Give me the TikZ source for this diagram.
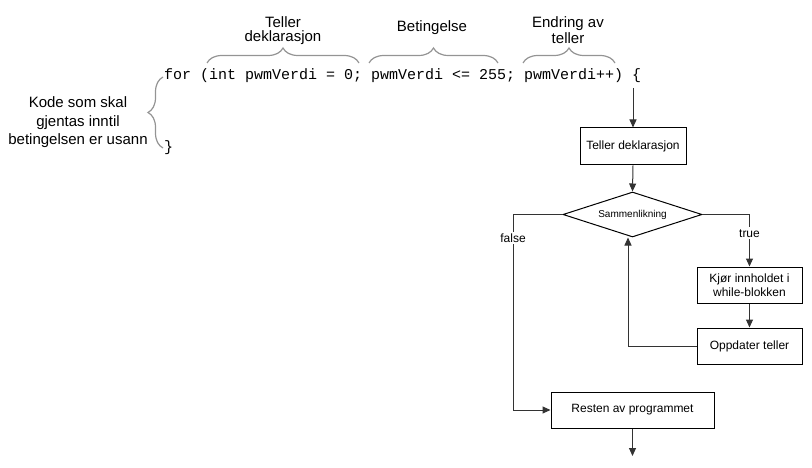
\documentclass[tikz,border=0pt]{standalone}
\usepackage{fontspec}
\setmainfont{Liberation Sans}
\newfontfamily\codefont{Liberation Mono}
\usetikzlibrary{arrows.meta,shapes.geometric,decorations.pathreplacing}
\begin{document}
\begin{tikzpicture}[x=1pt,y=-1pt,
  box/.style={draw=black,line width=1pt,fill=white,inner sep=0pt,align=center,font=\fontsize{12}{14}\selectfont},
  arr/.style={draw=black!80,line width=1pt,-{Triangle[length=8pt,width=7pt]}},
  conn/.style={draw=black!80,line width=1pt},
  lbl/.style={fill=white,inner sep=2pt,font=\fontsize{12}{14}\selectfont},
  curly/.style={draw=black!42,line width=1.2pt,decorate,decoration={brace,amplitude=15pt}},
  note/.style={align=center,font=\fontsize{15}{14}\selectfont}]
\useasboundingbox (0,0) rectangle (812,468);

% code
\node[anchor=base west,inner sep=0pt,font=\codefont\fontsize{15}{18}\selectfont] (code) at (164,80) {for (int pwmVerdi = 0; pwmVerdi <= 255; pwmVerdi++) \{};
\node[anchor=base west,inner sep=0pt,font=\codefont\fontsize{15}{18}\selectfont] (close) at (164,152) {\}};

% braces
\draw[curly] (207,63) -- (359,63);
\draw[curly] (369,63) -- (498,63);
\draw[curly] (523,63) -- (615,63);
\draw[curly] (163,148) -- (163,77);

% brace labels
\node[note] (l1) at (283,31) {Teller\\deklarasjon};
\node[note,anchor=base] (l2) at (432,32) {Betingelse};
\node[note,font=\fontsize{15}{16}\selectfont] (l3) at (568,30.5) {Endring av\\teller};
\node[note,font=\fontsize{15}{18.5}\selectfont] (l4) at (78,122.5) {Kode som skal\\gjentas inntil\\betingelsen er usann};

% flowchart
\coordinate (start) at (633,88);
\node[box,minimum width=106pt,minimum height=37pt] (td) at (633,146.5) {Teller deklarasjon};
\node[draw=black,line width=1pt,fill=white,diamond,minimum width=139pt,minimum height=45pt,aspect=3.09,inner sep=0pt,font=\fontsize{10}{12}\selectfont] (cmp) at (632.5,214.5) {Sammenlikning};
\node[box,minimum width=105pt,minimum height=36pt] (kj) at (749.5,285) {Kjør innholdet i\\while-blokken};
\node[box,minimum width=105pt,minimum height=36pt] (op) at (749.5,346) {Oppdater teller};
\node[box,minimum width=163pt,minimum height=36pt] (rest) at (632.5,410) {Resten av programmet};
\coordinate (fl) at (513,214.5);
\coordinate (end) at (632.5,456);

\draw[arr] (start) -- (td.north);
\draw[arr] (td.south) -- (cmp.north);
\draw[arr] (cmp.east) -| node[lbl,pos=0.68] (tl) {true} (kj.north);
\draw[arr] (kj.south) -- (op.north);
\draw[arr] (op.west) -| ([xshift=-4.5pt]cmp.south);
\draw[arr] (cmp.west) -- (fl) |- node[lbl,pos=0.06] (fls) {false} (rest.west);
\draw[arr] (rest.south) -- (end);
\end{tikzpicture}
\end{document}
